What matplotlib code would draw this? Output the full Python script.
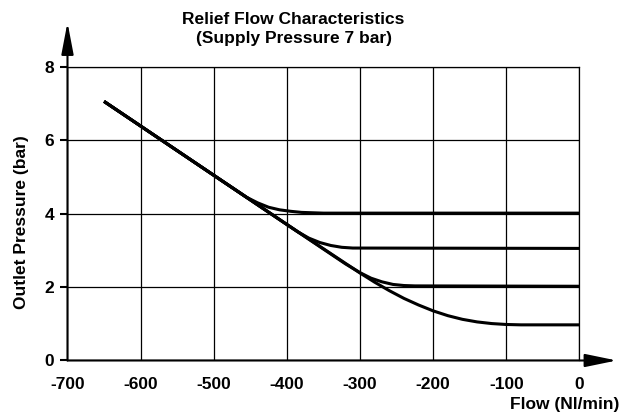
import matplotlib.pyplot as plt

plt.rcParams['font.family'] = ['Liberation Sans', 'DejaVu Sans']
plt.rcParams['font.weight'] = 'bold'
plt.rcParams['axes.unicode_minus'] = False

# flow (Nl/min) and outlet pressure (bar) for each set pressure
x4 = [-650, -600, -550, -500, -470, -455, -440, -425, -410, -395, -380, -365, -350, 0]
y4 = [7.05, 6.38, 5.71, 5.04, 4.64, 4.44, 4.29, 4.17, 4.10, 4.06, 4.03, 4.02, 4.01, 4.01]
x3 = [-650, -500, -400, -385, -370, -355, -340, -325, -310, 0]
y3 = [7.05, 5.04, 3.70, 3.50, 3.33, 3.21, 3.13, 3.08, 3.06, 3.05]
x2 = [-650, -500, -400, -320, -300, -285, -270, -255, -240, -225, 0]
y2 = [7.05, 5.04, 3.70, 2.63, 2.39, 2.24, 2.14, 2.07, 2.04, 2.03, 2.02]
x1 = [-650, -500, -400, -300, -280, -260, -240, -220, -200, -180, -160, -140, -120, -100, -80, 0]
y1 = [7.05, 5.04, 3.70, 2.38, 2.13, 1.90, 1.69, 1.51, 1.35, 1.22, 1.12, 1.05, 1.005, 0.98, 0.97, 0.97]

xticks = [-700, -600, -500, -400, -300, -200, -100, 0]
yticks = [0, 2, 4, 6, 8]

fig = plt.figure(figsize=(6.29, 4.17), dpi=100)
ax = fig.add_axes([0.1073, 0.1355, 0.814, 0.705])

for xs, ys in [(x4, y4), (x3, y3), (x2, y2), (x1, y1)]:
    ax.plot(xs, ys, color='black', lw=2.2, solid_joinstyle='round', solid_capstyle='butt', zorder=3)

ax.set_xlim(-700, 0)
ax.set_ylim(0, 8)
ax.set_xticks(xticks)
ax.set_yticks(yticks)
ax.grid(True, color='black', lw=0.9)
ax.tick_params(axis='x', length=0, pad=12, labelsize=12.5)
ax.tick_params(axis='y', direction='out', length=4.7, width=1.5, pad=5, labelsize=12.5)

ax.spines['left'].set_visible(False)
ax.spines['bottom'].set_visible(False)
ax.spines['top'].set_linewidth(0.9)
ax.spines['right'].set_linewidth(0.9)

# axis arrows
ax.annotate('', xy=(0, 1.15), xytext=(0, 0), xycoords='axes fraction',
            arrowprops=dict(arrowstyle='-|>,head_length=1.94,head_width=0.37',
                            mutation_scale=10, lw=1.5, color='black',
                            shrinkA=0, shrinkB=0), annotation_clip=False)
ax.annotate('', xy=(1.0727, 0), xytext=(0, 0), xycoords='axes fraction',
            arrowprops=dict(arrowstyle='-|>,head_length=1.94,head_width=0.4',
                            mutation_scale=10, lw=1.5, color='black',
                            shrinkA=0, shrinkB=0), annotation_clip=False)

fig.text(293.5 / 629, 1 - 12 / 417, 'Relief Flow Characteristics\n(Supply Pressure 7 bar)',
         ha='center', va='top', fontsize=12.5, fontweight='bold', linespacing=1.35)
fig.text(22 / 629, 1 - 222 / 417, 'Outlet Pressure (bar)', rotation=90,
         ha='center', va='center', fontsize=12.5, fontweight='bold')
fig.text(619 / 629, 1 - 397 / 417, 'Flow (Nl/min)', ha='right', va='top',
         fontsize=12.5, fontweight='bold')

fig.savefig('out.png', dpi=100)
